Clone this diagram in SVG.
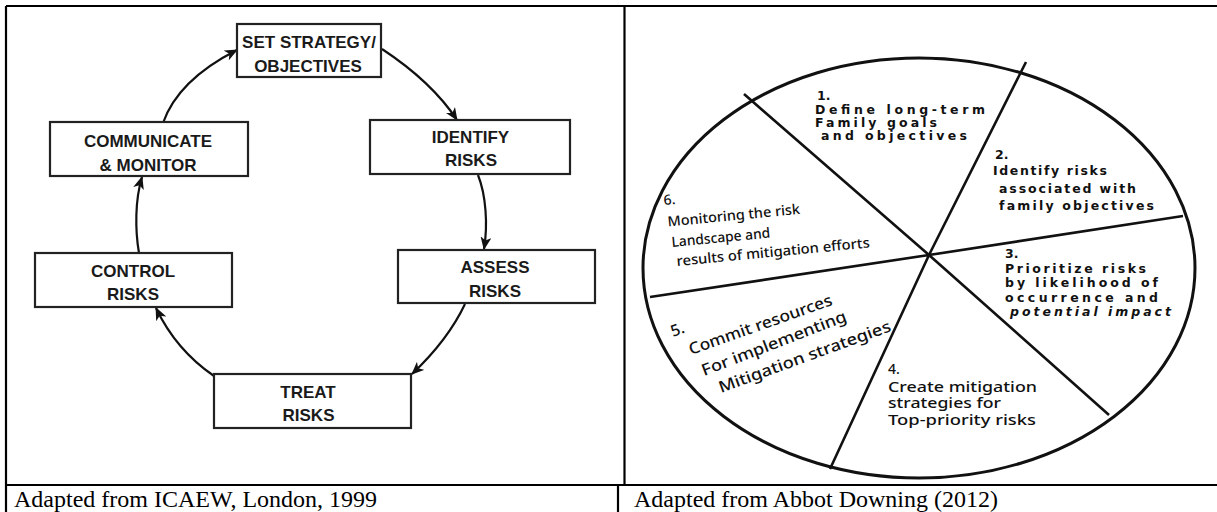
<svg xmlns="http://www.w3.org/2000/svg" width="1217" height="512" viewBox="0 0 1217 512">
<style>
.frame{stroke:#000;stroke-width:2.2;fill:none}
.box{fill:#fff;stroke:#222;stroke-width:2.2}
.bt{font-family:"Liberation Sans",Arial,sans-serif;font-weight:bold;font-size:17px;fill:#1a1a1a;text-anchor:middle}
.arr{fill:none;stroke:#111;stroke-width:2.2;marker-end:url(#ah)}
.cap{font-family:"Liberation Serif","Times New Roman",serif;font-size:24px;fill:#000}
.wheel{fill:none;stroke:#111;stroke-width:3}
.spoke{stroke:#111;stroke-width:2.6;fill:none}
.wa{font-family:"DejaVu Sans",sans-serif;font-weight:bold;font-size:12.5px;fill:#111}
.wb{font-family:"Noto Sans","Open Sans",sans-serif;font-size:14px;font-weight:500;fill:#111}
.wc{font-family:"Noto Sans","Open Sans",sans-serif;font-size:16px;font-weight:500;fill:#111}
</style>
<defs>
<marker id="ah" markerUnits="userSpaceOnUse" markerWidth="13" markerHeight="11" viewBox="0 0 13 11" refX="12" refY="5.5" orient="auto">
<path d="M0,0 L13,5.5 L0,11 L3.5,5.5 z" fill="#111"/>
</marker>
</defs>
<rect width="1217" height="512" fill="#fff"/>
<g id="table">
<line class="frame" x1="6" y1="6" x2="1217" y2="6"/>
<line class="frame" x1="6" y1="6" x2="6" y2="512"/>
<line class="frame" x1="6" y1="485" x2="1217" y2="485"/>
<line class="frame" x1="624.5" y1="6" x2="624.5" y2="485"/>
<line class="frame" x1="618" y1="485" x2="618" y2="512"/>
<text class="cap" x="14" y="507">Adapted from ICAEW, London, 1999</text>
<text class="cap" x="634" y="507">Adapted from Abbot Downing (2012)</text>
</g>
<g id="connectors">
<path class="arr" d="M382,49 Q432,82 457,120"/>
<path class="arr" d="M478,175 C486,195 488,225 484,249"/>
<path class="arr" d="M465,304 Q448,340 412,374"/>
<path class="arr" d="M214,376 Q176,350 156,308"/>
<path class="arr" d="M139,253 C135,230 135,200 142,177"/>
<path class="arr" d="M163,123 Q178,80 237,50"/>
</g>
<g id="set-strategy">
<rect class="box" x="237" y="24" width="144" height="53"/>
<text class="bt" x="309" y="48">SET STRATEGY/</text>
<text class="bt" x="308" y="72">OBJECTIVES</text>
</g>
<g id="identify-risks">
<rect class="box" x="370" y="120" width="200" height="54"/>
<text class="bt" x="470.5" y="143">IDENTIFY</text>
<text class="bt" x="471" y="166">RISKS</text>
</g>
<g id="assess-risks">
<rect class="box" x="398" y="250" width="197" height="53"/>
<text class="bt" x="495" y="273">ASSESS</text>
<text class="bt" x="495" y="296.5">RISKS</text>
</g>
<g id="treat-risks">
<rect class="box" x="214" y="374" width="197" height="54"/>
<text class="bt" x="308" y="397.5">TREAT</text>
<text class="bt" x="308.5" y="421">RISKS</text>
</g>
<g id="control-risks">
<rect class="box" x="35" y="253" width="197" height="54"/>
<text class="bt" x="133" y="276.5">CONTROL</text>
<text class="bt" x="133" y="300">RISKS</text>
</g>
<g id="communicate-monitor">
<rect class="box" x="50" y="122" width="198" height="54"/>
<text class="bt" x="148" y="146.5">COMMUNICATE</text>
<text class="bt" x="148" y="170.5">&amp; MONITOR</text>
</g>
<g id="wheel">
<ellipse class="wheel" cx="919" cy="268" rx="276" ry="210"/>
<path class="spoke" d="M929,255 L744,94 M929,255 L1026,62 M929,255 L1183,216 M929,255 L1109,415 M929,255 L830,469 M929,255 L650,297"/>
</g>
<g id="step1">
<text class="wa" x="817" y="100">1.</text>
<text class="wa" x="815" y="114" textLength="170" lengthAdjust="spacing">Define long-term</text>
<text class="wa" x="815" y="127" textLength="122" lengthAdjust="spacing">Family goals</text>
<text class="wa" x="821" y="139.5" textLength="146" lengthAdjust="spacing">and objectives</text>
</g>
<g id="step2">
<text class="wa" x="995" y="159">2.</text>
<text class="wa" x="993" y="175" textLength="114" lengthAdjust="spacing">Identify risks</text>
<text class="wa" x="999" y="193" textLength="137" lengthAdjust="spacing">associated with</text>
<text class="wa" x="999" y="210" textLength="155" lengthAdjust="spacing">family objectives</text>
</g>
<g id="step3">
<text class="wa" x="1005" y="258">3.</text>
<text class="wa" x="1005" y="273" textLength="141" lengthAdjust="spacing">Prioritize risks</text>
<text class="wa" x="1005" y="287" textLength="153" lengthAdjust="spacing">by likelihood of</text>
<text class="wa" x="1005" y="302" textLength="153" lengthAdjust="spacing">occurrence and</text>
<text class="wa" x="1010" y="316" textLength="161" lengthAdjust="spacing" font-style="italic">potential impact</text>
</g>
<g id="step4">
<text class="wb" x="888" y="374">4.</text>
<text class="wb" x="888" y="391.5" textLength="149" lengthAdjust="spacingAndGlyphs">Create mitigation</text>
<text class="wb" x="888" y="408" textLength="113" lengthAdjust="spacingAndGlyphs">strategies for</text>
<text class="wb" x="888" y="424.5" textLength="148" lengthAdjust="spacingAndGlyphs">Top-priority risks</text>
</g>
<g id="step5">
<text class="wc" x="673" y="337" transform="rotate(-20 673 337)">5.</text>
<text class="wc" x="691" y="355" textLength="151" lengthAdjust="spacingAndGlyphs" transform="rotate(-19.5 691 355)">Commit resources</text>
<text class="wc" x="704" y="376" textLength="154" lengthAdjust="spacingAndGlyphs" transform="rotate(-21 704 376)">For implementing</text>
<text class="wc" x="721" y="393" textLength="182" lengthAdjust="spacingAndGlyphs" transform="rotate(-20 721 393)">Mitigation strategies</text>
</g>
<g id="step6">
<text class="wb" x="664" y="205" transform="rotate(-5.5 664 205)">6.</text>
<text class="wb" x="668" y="226.5" textLength="133" lengthAdjust="spacingAndGlyphs" transform="rotate(-5.5 668 226.5)">Monitoring the risk</text>
<text class="wb" x="672" y="247" textLength="99" lengthAdjust="spacingAndGlyphs" transform="rotate(-5.5 672 247)">Landscape and</text>
<text class="wb" x="677" y="266" textLength="194" lengthAdjust="spacingAndGlyphs" transform="rotate(-5.5 677 266)">results of mitigation efforts</text>
</g>
</svg>
